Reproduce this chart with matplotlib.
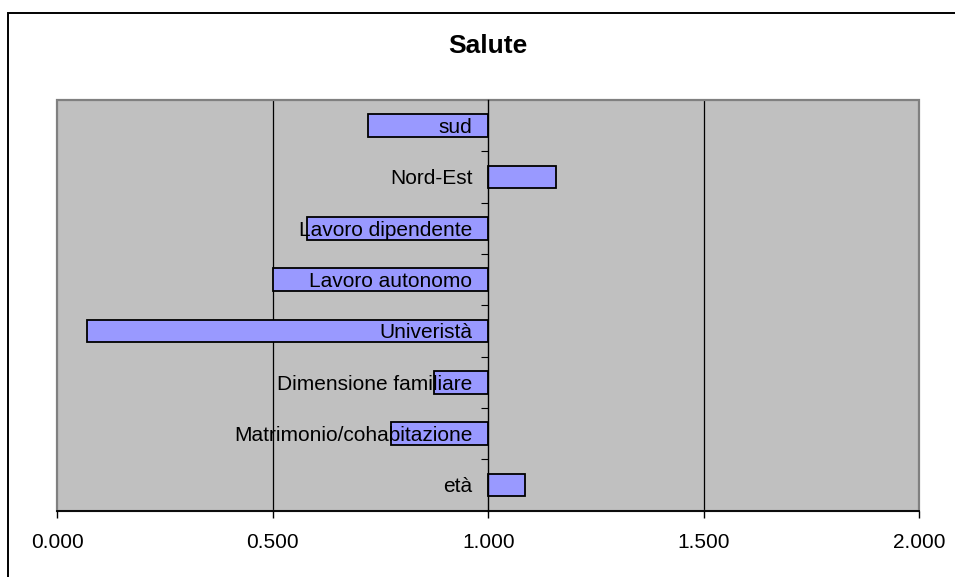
import matplotlib
matplotlib.use("Agg")
import matplotlib.pyplot as plt
from matplotlib.patches import Rectangle
from matplotlib.ticker import FuncFormatter, FixedLocator
import numpy as np

plt.rcParams['font.family'] = ['Liberation Sans', 'DejaVu Sans']

# Odds ratios, listed bottom to top
categories = ["età", "Matrimonio/cohabitazione", "Dimensione familiare",
              "Univeristà", "Lavoro autonomo", "Lavoro dipendente",
              "Nord-Est", "sud"]
values = [1.084, 0.774, 0.875, 0.070, 0.500, 0.580, 1.158, 0.722]
baseline = 1.0
x_ticks = [0.0, 0.5, 1.0, 1.5, 2.0]
title = "Salute"

W, H = 955, 577
fig = plt.figure(figsize=(W / 100, H / 100), dpi=100)
ax = fig.add_axes([57.3 / W, 1 - 510.5 / H, (919.3 - 57.3) / W, (510.5 - 100) / H])
ax.set_facecolor("#C0C0C0")
# axis (tick labels) drawn above the bars
ax.set_axisbelow(False)

y = np.arange(len(categories))
widths = [v - baseline for v in values]
ax.barh(y, widths, left=baseline, height=0.44, color="#9999FF",
        edgecolor="black", linewidth=1.3, zorder=2)

ax.set_xlim(x_ticks[0], x_ticks[-1])
ax.set_ylim(-0.5, len(categories) - 0.5)

# vertical gridlines behind the bars
for t in x_ticks[1:-1]:
    if t != baseline:
        ax.axvline(t, color="black", linewidth=0.9, zorder=0.5)

# category axis crosses at the baseline
for s in ("top", "right"):
    ax.spines[s].set_visible(False)
ax.spines["left"].set_position(("data", baseline))
ax.spines["left"].set_color("black")
ax.spines["left"].set_linewidth(1.0)
ax.spines["left"].set_zorder(3)
ax.spines["bottom"].set_color("black")
ax.spines["bottom"].set_linewidth(1.3)

# grey plot-area frame
ax.add_patch(Rectangle((0, 0), 1, 1, transform=ax.transAxes, fill=False,
                       edgecolor="#808080", linewidth=1.6, zorder=0.6,
                       clip_on=False))

ax.set_yticks(y)
ax.set_yticklabels(categories, fontsize=15)
ax.tick_params(axis="y", which="major", length=0, pad=11.5)
ax.yaxis.set_minor_locator(FixedLocator(np.arange(len(categories) - 1) + 0.5))
ax.tick_params(axis="y", which="minor", length=5, width=0.8, direction="out")

ax.set_xticks(x_ticks)
ax.xaxis.set_major_formatter(FuncFormatter(lambda v, p: f"{v:.3f}"))
ax.tick_params(axis="x", length=5, width=1.0, pad=11, labelsize=15)

fig.text(488 / W, 1 - 46 / H, title, ha="center", va="center",
         fontsize=19, fontweight="bold")

# outer chart frame
fig.add_artist(Rectangle((7.5 / W, -0.1), 2, 1.1 - 12.5 / H,
                         transform=fig.transFigure, fill=False,
                         edgecolor="black", linewidth=1.4))

fig.savefig("out.png", dpi=100)
